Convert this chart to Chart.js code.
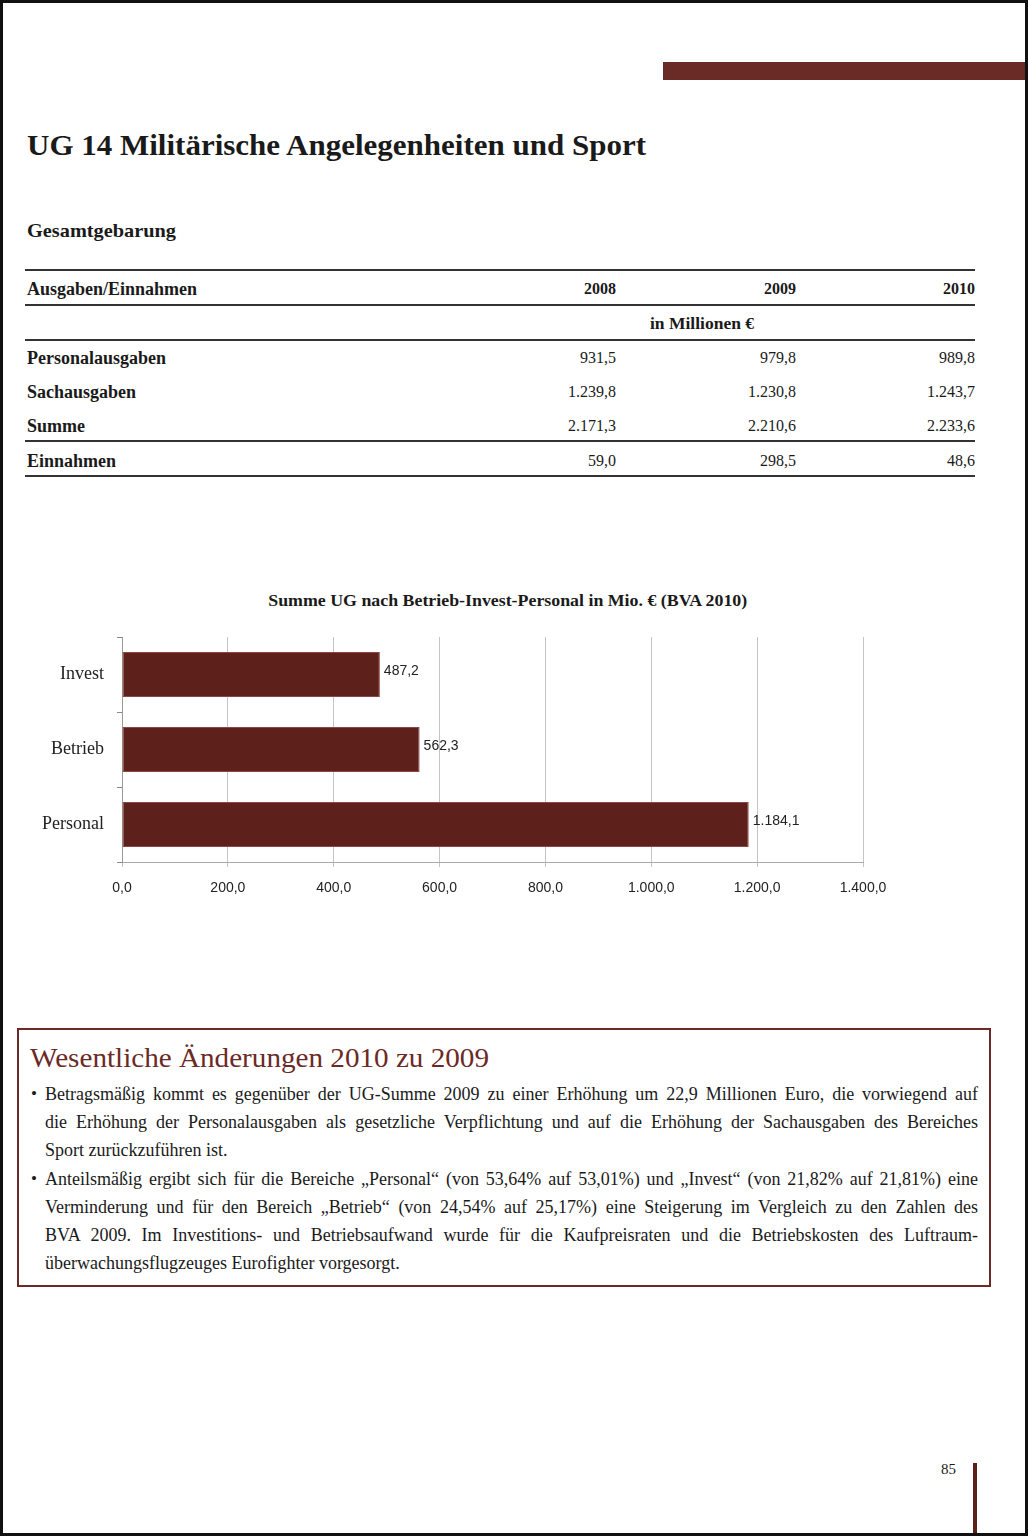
<!DOCTYPE html>
<html>
<head>
<meta charset="utf-8">
<script src="https://cdn.jsdelivr.net/npm/chart.js@4/dist/chart.umd.min.js"></script>
<style>
  html, body { margin:0; padding:0; }
  body { width:1028px; height:1536px; position:relative; background:#fff; overflow:hidden;
         font-family:"Liberation Serif", "DejaVu Serif", serif; color:#1a1a1a; }
  .frame { position:absolute; left:0; top:0; width:1022px; height:1530px; border:3px solid #111; }
  .abs { position:absolute; white-space:nowrap; }
  .fit { display:inline-block; transform-origin:left center; }
  .rule { position:absolute; left:25px; width:950px; background:#333; }
  .row { position:absolute; left:27px; width:948px; height:20px; line-height:20px; font-size:18px; }
  .row .lab { position:absolute; left:0; font-weight:bold; }
  .row .c { position:absolute; text-align:right; width:120px; font-size:16px; }
  .c1 { left:469px; } .c2 { left:649px; } .c3 { left:828px; }
  .box { position:absolute; left:17px; top:1028px; width:970px; height:255px; border:2px solid #6b2a25; }
  .para { position:absolute; left:45px; width:933px; font-size:18px; }
  .para div { height:28px; line-height:28px; text-align:justify; text-align-last:justify; white-space:nowrap; }
  .para div.last { text-align-last:left; }
  .bul { position:absolute; left:31px; font-size:17px; line-height:28px; }
</style>
</head>
<body>
<div class="frame"></div>

<!-- maroon strip top right -->
<div class="abs" style="left:663px; top:62px; width:362px; height:18px; background:#6a2a25;"></div>

<div class="abs" style="left:27px; top:127px; line-height:36px; font-size:30px; font-weight:bold;">
  <span class="fit" data-w="619">UG 14 Militärische Angelegenheiten und Sport</span></div>

<div class="abs" style="left:27px; top:219px; line-height:24px; font-size:19px; font-weight:bold;">
  <span class="fit" data-w="149">Gesamtgebarung</span></div>

<!-- table -->
<div class="rule" style="top:269px; height:2px;"></div>
<div class="rule" style="top:304px; height:1.5px;"></div>
<div class="rule" style="top:339px; height:1.5px;"></div>
<div class="rule" style="top:440px; height:1.5px;"></div>
<div class="rule" style="top:475px; height:2px;"></div>

<div id="tbl"></div>

<!-- chart -->
<div class="abs" style="left:0; width:1016px; top:591px; line-height:20px; font-size:16px; font-weight:bold; text-align:center;">
  <span class="fit" data-w="479" style="transform-origin:center center;">Summe UG nach Betrieb-Invest-Personal in Mio. € (BVA 2010)</span></div>
<div style="position:absolute; left:20px; top:625px; width:880px; height:280px;">
  <canvas id="chart"></canvas>
</div>

<!-- text box -->
<div class="box"></div>
<div class="abs" style="left:30px; top:1040px; line-height:36px; font-size:28px; color:#6b2a25;">
  <span class="fit" data-w="459">Wesentliche Änderungen 2010 zu 2009</span></div>

<div class="bul" style="top:1080px;">•</div>
<div class="para" style="top:1080px;">
  <div>Betragsmäßig kommt es gegenüber der UG-Summe 2009 zu einer Erhöhung um 22,9 Millionen Euro, die vorwiegend auf</div>
  <div>die Erhöhung der Personalausgaben als gesetzliche Verpflichtung und auf die Erhöhung der Sachausgaben des Bereiches</div>
  <div class="last">Sport zurückzuführen ist.</div>
</div>
<div class="bul" style="top:1165px;">•</div>
<div class="para" style="top:1165px;">
  <div>Anteilsmäßig ergibt sich für die Bereiche „Personal“ (von 53,64% auf 53,01%) und „Invest“ (von 21,82% auf 21,81%) eine</div>
  <div>Verminderung und für den Bereich „Betrieb“ (von 24,54% auf 25,17%) eine Steigerung im Vergleich zu den Zahlen des</div>
  <div>BVA 2009. Im Investitions- und Betriebsaufwand wurde für die Kaufpreisraten und die Betriebskosten des Luftraum-</div>
  <div class="last">überwachungsflugzeuges Eurofighter vorgesorgt.</div>
</div>

<!-- page number -->
<div class="abs" style="left:941px; top:1459px; line-height:20px; font-size:15px;">85</div>
<div class="abs" style="left:973px; top:1463px; width:4px; height:70px; background:#5e201b;"></div>

<script>
/* TABLE DATA */
const tableYears = ["2008", "2009", "2010"];
const tableRows = ["Personalausgaben", "Sachausgaben", "Summe", "Einnahmen"];
const tableValues = [
  ["931,5", "979,8", "989,8"],
  ["1.239,8", "1.230,8", "1.243,7"],
  ["2.171,3", "2.210,6", "2.233,6"],
  ["59,0", "298,5", "48,6"]
];

/* CHART DATA */
const categories = ["Invest", "Betrieb", "Personal"];
const values = [487.2, 562.3, 1184.1];
const xTicks = [0, 200, 400, 600, 800, 1000, 1200, 1400];

/* german number format, one decimal */
function fmt(v){
  let parts = Number(v).toFixed(1).split(".");
  parts[0] = parts[0].replace(/\B(?=(\d{3})+(?!\d))/g, ".");
  return parts[0] + "," + parts[1];
}

/* build table */
let html = `<div class="row" style="top:279px;"><span class="lab">Ausgaben/Einnahmen</span>`;
tableYears.forEach((y,i)=>{ html += `<span class="c c${i+1}" style="font-weight:bold;">${y}</span>`; });
html += `</div>`;
html += `<div class="row" style="top:313px;"><span style="position:absolute; left:623px; font-weight:bold; font-size:17.5px;">in Millionen €</span></div>`;
const rowTops = [348, 382, 416, 451];
tableRows.forEach((r,i)=>{
  html += `<div class="row" style="top:${rowTops[i]}px;"><span class="lab">${r}</span>`;
  tableValues[i].forEach((v,j)=>{ html += `<span class="c c${j+1}">${v}</span>`; });
  html += `</div>`;
});
document.getElementById("tbl").innerHTML = html;

/* stretch headings to the widths of the original */
document.querySelectorAll(".fit").forEach(el=>{
  const w = el.getBoundingClientRect().width;
  el.style.transform = `scaleX(${el.dataset.w / w})`;
});

/* value labels at bar ends */
const valueLabels = {
  id: "valueLabels",
  afterDatasetsDraw(chart){
    const ctx = chart.ctx;
    const meta = chart.getDatasetMeta(0);
    ctx.save();
    ctx.font = '14px "Liberation Sans Narrow", "Liberation Sans", Arial, sans-serif';
    ctx.fillStyle = "#222";
    ctx.textBaseline = "middle";
    meta.data.forEach((bar,i)=>{
      ctx.fillText(fmt(values[i]), bar.x + 4, bar.y - 3);
    });
    ctx.restore();
  }
};

new Chart(document.getElementById("chart"), {
  type: "bar",
  data: {
    labels: categories,
    datasets: [{
      data: values,
      backgroundColor: "#5e201b",
      borderColor: "#8a4a43",
      borderWidth: 1,
      borderSkipped: false,
      barPercentage: 0.6,
      categoryPercentage: 1
    }]
  },
  options: {
    indexAxis: "y",
    responsive: true,
    maintainAspectRatio: false,
    animation: false,
    layout: { padding: { top: 12, right: 37, bottom: 0, left: 0 } },
    plugins: { legend: { display: false }, tooltip: { enabled: false }, title: { display: false } },
    scales: {
      x: {
        min: 0, max: 1400,
        afterBuildTicks: s => { s.ticks = xTicks.map(v => ({ value: v })); },
        afterFit: s => { s.height = 43; },
        ticks: {
          callback: v => fmt(v),
          color: "#222",
          padding: 13,
          font: { family: '"Liberation Sans Narrow", "Liberation Sans", Arial, sans-serif', size: 14 }
        },
        grid: { color: "#c4c4c4", tickLength: 5 },
        border: { color: "#aaa" }
      },
      y: {
        afterFit: s => { s.width = 102; s.paddingTop = 0; s.paddingBottom = 0; },
        ticks: {
          color: "#222",
          padding: 13,
          font: { family: '"Liberation Serif", serif', size: 18 }
        },
        grid: { drawOnChartArea: false, offset: true, tickLength: 5, color: "#888" },
        border: { color: "#999" }
      }
    }
  },
  plugins: [valueLabels]
});
</script>
</body>
</html>
